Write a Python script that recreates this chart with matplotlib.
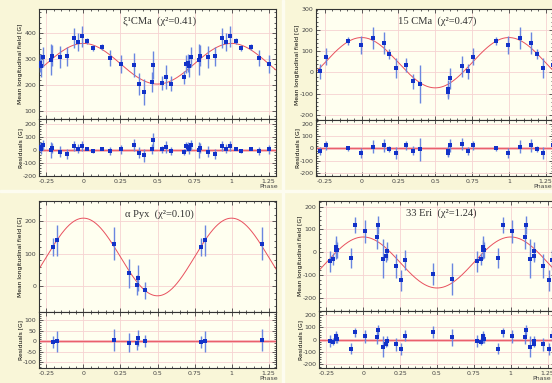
import numpy as np
import matplotlib.pyplot as plt
from matplotlib.ticker import MultipleLocator, AutoMinorLocator, FuncFormatter
from matplotlib.patches import Rectangle

W, H = 552, 383

# xi1 CMa
xi_phase = [0.677, 0.690, 0.706, 0.715, 0.729, 0.783, 0.787, 0.843, 0.888, 0.935, 0.962, 0.987,
            0.027, 0.065, 0.128, 0.182, 0.256, 0.339, 0.377, 0.408, 0.462, 0.471, 0.531, 0.558, 0.590]
xi_field = [230, 280, 285, 272, 308, 297, 313, 308, 310, 381, 364, 387,
            368, 341, 345, 303, 282, 277, 204, 174, 212, 277, 209, 231, 206]
xi_err = [25, 35, 35, 40, 38, 60, 40, 42, 38, 38, 35, 40,
          12, 12, 12, 30, 35, 45, 42, 50, 38, 55, 26, 45, 30]
xi_fit = (282, 78)

# 15 CMa
c15_phase = [0.720, 0.757, 0.910, 0.995, 0.079, 0.152, 0.188, 0.235, 0.299, 0.348, 0.396,
             0.588, 0.590, 0.597, 0.679]
c15_field = [5, 75, 149, 128, 163, 139, 88, 21, 35, -42, -56, -93, -77, -27, 30]
c15_err = [34, 40, 20, 42, 52, 50, 25, 45, 34, 36, 90, 35, 40, 50, 50]
c15_fit = (46, 119)

# alpha Pyx
pyx_phase = [0.795, 0.819, 0.203, 0.310, 0.362, 0.370, 0.417]
pyx_field = [120, 141, 131, 40, 4, 24, -13]
pyx_err = [28, 49, 51, 45, 31, 40, 27]
pyx_fit = (90, 120)

# 33 Eri
eri_phase = [0.774, 0.797, 0.813, 0.815, 0.822, 0.916, 0.946, 0.009, 0.095, 0.102, 0.133,
             0.156, 0.160, 0.219, 0.257, 0.282, 0.472, 0.603]
eri_field = [-40, -30, 25, 12, 10, -24, 119, 92, 68, 118, -28, -15, 4, -61, -124, -36, -96, -118]
eri_err = [45, 27, 45, 40, 35, 44, 36, 50, 55, 40, 85, 30, 40, 52, 48, 44, 48, 70]
eri_fit = (-45, 112)

BG = '#f9f6d8'
PANEL = '#fffff0'
GRID = '#f6d2d2'
BLUE = '#1232c8'
EBAR = '#6a86e0'
RED = '#e8505e'


def fig_rect(x0, x1, y0, y1):
    return [x0 / W, 1 - y1 / H, (x1 - x0) / W, (y1 - y0) / H]


def style(ax, ystep, ylim, xlim):
    ax.set_facecolor(PANEL)
    ax.set_xlim(xlim)
    ax.set_ylim(ylim)
    ax.xaxis.set_major_locator(MultipleLocator(0.25))
    ax.xaxis.set_minor_locator(AutoMinorLocator(5))
    ax.yaxis.set_major_locator(MultipleLocator(ystep))
    ax.yaxis.set_minor_locator(AutoMinorLocator(5))
    ax.xaxis.set_major_formatter(FuncFormatter(lambda v, p: f'{v:g}'))
    ax.yaxis.set_major_formatter(FuncFormatter(lambda v, p: f'{v:g}'))
    ax.tick_params(which='both', direction='in', top=True, right=True,
                   labelsize=4.5, colors='#444444', width=0.6, pad=2)
    ax.tick_params(which='major', length=3)
    ax.tick_params(which='minor', length=1.5)
    ax.grid(True, which='major', color=GRID, lw=0.6)
    ax.set_axisbelow(True)
    for s in ax.spines.values():
        s.set_linewidth(0.8)
        s.set_color('#333333')


def copies(phase, val, err, xlim):
    xs, ys, es = [], [], []
    for p, v, e in zip(phase, val, err):
        for k in (-1, 0, 1):
            if xlim[0] < p + k < xlim[1]:
                xs.append(p + k)
                ys.append(v)
                es.append(e)
    return xs, ys, es


def panel(px, py, phase, field, err, fit, title, xlim, ylim_m, ylim_r, step_m, step_r,
          tpos, phase_x=1.25):
    x0, x1 = px
    yt, ym, yb = py
    ax = fig.add_axes(fig_rect(x0, x1, yt, ym))
    axr = fig.add_axes(fig_rect(x0, x1, ym, yb))
    style(ax, step_m, ylim_m, xlim)
    style(axr, step_r, ylim_r, xlim)
    ax.tick_params(labelbottom=False)

    b0, b1 = fit
    xx = np.linspace(xlim[0], xlim[1], 400)
    ax.plot(xx, b0 + b1 * np.cos(2 * np.pi * xx), color=RED, lw=0.7, zorder=2)
    axr.axhline(0, color='#f6b4b9', lw=2.0, zorder=2)
    axr.axhline(0, color=RED, lw=0.6, zorder=2)

    xs, ys, es = copies(phase, field, err, xlim)
    xs = np.array(xs)
    ys = np.array(ys)
    res = ys - (b0 + b1 * np.cos(2 * np.pi * xs))
    for a, yv in ((ax, ys), (axr, res)):
        a.errorbar(xs, yv, yerr=es, fmt='s', ms=2.5, mew=0, color=BLUE, ecolor=EBAR,
                   elinewidth=1.0, capsize=1.3, capthick=0.7, zorder=3)

    ax.text(tpos[0], tpos[1], title, transform=ax.transAxes, ha='center', va='center',
            fontsize=7.6, family=['Liberation Serif', 'DejaVu Serif'], color='#333333')
    ax.set_ylabel('Mean longitudinal field [G]', fontsize=4.3, labelpad=3)
    axr.set_ylabel('Residuals [G]', fontsize=4.3, labelpad=3)
    axr.annotate('Phase', xy=(phase_x, 0), xycoords=('data', 'axes fraction'),
                 xytext=(0, -7.5), textcoords='offset points', ha='center', va='center',
                 fontsize=4.5, color='#444444')
    ax.yaxis.set_label_coords(-0.068, 0.5)
    axr.yaxis.set_label_coords(-0.068, 0.5)


fig = plt.figure(figsize=(W / 100, H / 100), dpi=100, facecolor=BG)
fig.patches.append(Rectangle((282 / W, 0), 2 / W, 1, transform=fig.transFigure,
                             color='#fdfcf0', zorder=0))
fig.patches.append(Rectangle((0, 1 - 192 / H), 1, 1.5 / H, transform=fig.transFigure,
                             color='#fdfcf0', zorder=0))

panel((39, 276), (9, 119, 176), xi_phase, xi_field, xi_err, xi_fit,
      'ξ¹CMa  (χ²=0.41)', (-0.3, 1.3), (70, 492), (-202, 236), 100, 100, (0.51, 0.89))
panel((316, 553), (9, 120, 176), c15_phase, c15_field, c15_err, c15_fit,
      '15 CMa  (χ²=0.47)', (-0.31, 1.3), (-225, 300), (-222, 229), 100, 100, (0.51, 0.89),
      phase_x=1.23)
panel((39, 276), (201, 312, 368), pyx_phase, pyx_field, pyx_err, pyx_fit,
      'α Pyx  (χ²=0.10)', (-0.3, 1.3), (-80, 263), (-127, 140), 100, 50, (0.51, 0.88))
panel((319, 555), (201, 311, 368), eri_phase, eri_field, eri_err, eri_fit,
      '33 Eri  (χ²=1.24)', (-0.3, 1.3), (-258, 225), (-230, 230), 100, 100, (0.52, 0.89),
      phase_x=1.21)

fig.savefig('out.png', dpi=100, facecolor=BG)
